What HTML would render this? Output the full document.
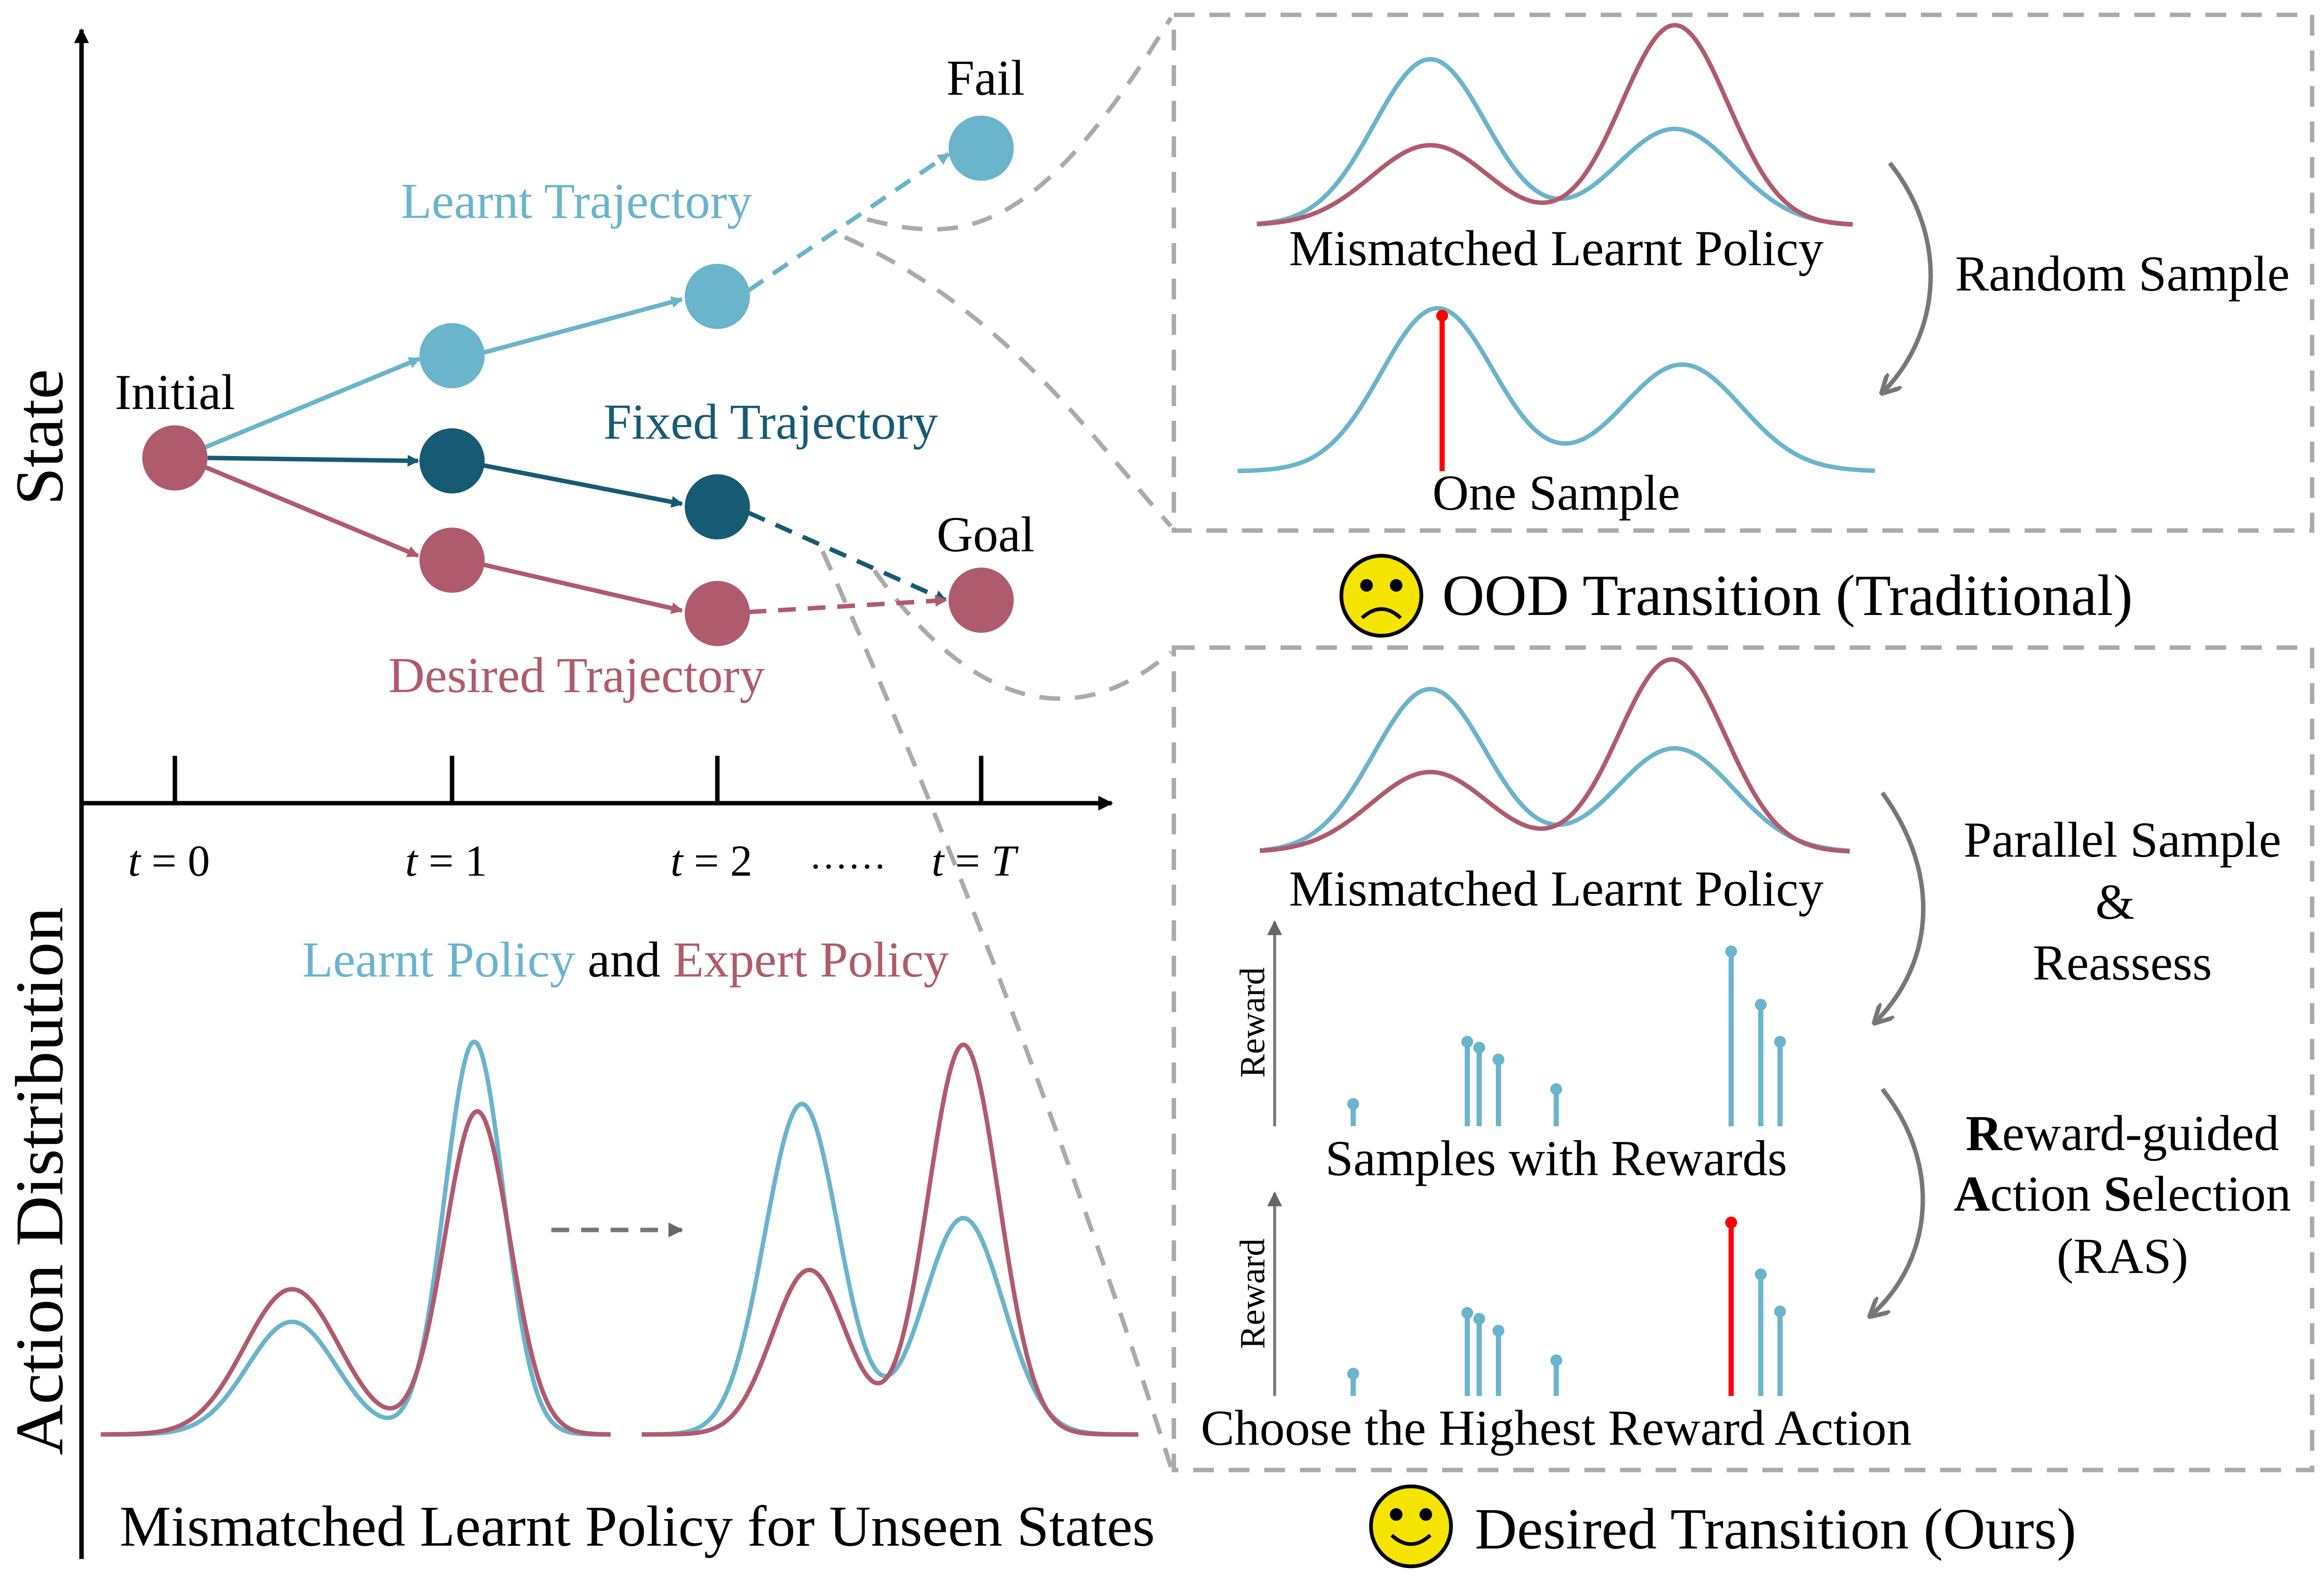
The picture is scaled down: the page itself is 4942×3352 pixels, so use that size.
<!DOCTYPE html>
<html><head><meta charset="utf-8"><style>html,body{margin:0;padding:0;background:#fff}svg{display:block}text{font-family:"Liberation Serif",serif}</style></head>
<body>
<svg id="s" width="4942" height="3352" viewBox="0 0 1568 1063.5" xmlns="http://www.w3.org/2000/svg">
<defs>
<marker id="ab" markerWidth="8" markerHeight="8" refX="7" refY="4" orient="auto" markerUnits="userSpaceOnUse" viewBox="0 0 8 8"><path d="M0,0 L8,4 L0,8z" fill="#6ab4cc"/></marker>
<marker id="ad" markerWidth="8" markerHeight="8" refX="7" refY="4" orient="auto" markerUnits="userSpaceOnUse" viewBox="0 0 8 8"><path d="M0,0 L8,4 L0,8z" fill="#175a73"/></marker>
<marker id="am" markerWidth="8" markerHeight="8" refX="7" refY="4" orient="auto" markerUnits="userSpaceOnUse" viewBox="0 0 8 8"><path d="M0,0 L8,4 L0,8z" fill="#b05a6e"/></marker>
<marker id="ak" markerWidth="10" markerHeight="10" refX="9" refY="5" orient="auto" markerUnits="userSpaceOnUse" viewBox="0 0 10 10"><path d="M0,0 L10,5 L0,10z" fill="#000"/></marker>
<marker id="ag" markerWidth="14" markerHeight="14" refX="12" refY="7" orient="auto" markerUnits="userSpaceOnUse" viewBox="0 0 14 14"><path d="M0,0 L13,7 L0,14" fill="none" stroke="#777" stroke-width="3"/></marker>
<marker id="ag2" markerWidth="10" markerHeight="10" refX="9" refY="5" orient="auto" markerUnits="userSpaceOnUse" viewBox="0 0 10 10"><path d="M0,0 L10,5 L0,10z" fill="#666"/></marker>
</defs>
<g fill="none" stroke="#aaa" stroke-width="3" stroke-dasharray="14,10">
<path d="M585,148 C650,165 700,160 790,12"/>
<path d="M570,160 C680,210 740,300 790,355"/>
<path d="M590,385 C650,470 720,500 790,440"/>
<path d="M555,372 C640,560 730,800 790,990"/>
</g>
<line x1="55" y1="1052" x2="55" y2="20" stroke="#000" stroke-width="3" marker-end="url(#ak)"/>
<line x1="55" y1="542" x2="750" y2="542" stroke="#000" stroke-width="3" marker-end="url(#ak)"/>
<g stroke="#000" stroke-width="3"><line x1="118" y1="510" x2="118" y2="542"/><line x1="305" y1="510" x2="305" y2="542"/><line x1="484" y1="510" x2="484" y2="542"/><line x1="662" y1="510" x2="662" y2="542"/></g>
<g font-size="30" text-anchor="middle"><text x="114" y="591"><tspan font-style="italic">t</tspan> = 0</text><text x="301" y="591"><tspan font-style="italic">t</tspan> = 1</text><text x="480" y="591"><tspan font-style="italic">t</tspan> = 2</text><text x="657" y="591"><tspan font-style="italic">t</tspan> = <tspan font-style="italic">T</tspan></text></g>
<text x="572" y="586" font-size="26" text-anchor="middle">……</text>
<text transform="translate(42,295) rotate(-90)" font-size="46" text-anchor="middle">State</text>
<text transform="translate(42,797) rotate(-90)" font-size="46" text-anchor="middle" textLength="370" lengthAdjust="spacingAndGlyphs">Action Distribution</text>
<g stroke-width="3" fill="none">
<line x1="138" y1="302" x2="283" y2="242" stroke="#6ab4cc" marker-end="url(#ab)"/>
<line x1="326" y1="238" x2="460" y2="202" stroke="#6ab4cc" marker-end="url(#ab)"/>
<line x1="505" y1="196" x2="640" y2="104" stroke="#6ab4cc" stroke-dasharray="12,8" marker-end="url(#ab)"/>
<line x1="140" y1="309" x2="282" y2="311" stroke="#175a73" marker-end="url(#ad)"/>
<line x1="326" y1="314" x2="460" y2="340" stroke="#175a73" marker-end="url(#ad)"/>
<line x1="505" y1="346" x2="638" y2="405" stroke="#175a73" stroke-dasharray="12,8" marker-end="url(#ad)"/>
<line x1="138" y1="315" x2="282" y2="375" stroke="#b05a6e" marker-end="url(#am)"/>
<line x1="326" y1="381" x2="460" y2="412" stroke="#b05a6e" marker-end="url(#am)"/>
<line x1="505" y1="413" x2="638" y2="405" stroke="#b05a6e" stroke-dasharray="12,8" marker-end="url(#am)"/>
</g>
<circle cx="118" cy="309" r="22" fill="#b05a6e"/>
<circle cx="305" cy="240" r="22" fill="#6ab4cc"/><circle cx="484" cy="200" r="22" fill="#6ab4cc"/><circle cx="662" cy="100" r="22" fill="#6ab4cc"/>
<circle cx="305" cy="311" r="22" fill="#175a73"/><circle cx="484" cy="342" r="22" fill="#175a73"/>
<circle cx="305" cy="378" r="22" fill="#b05a6e"/><circle cx="484" cy="414" r="22" fill="#b05a6e"/><circle cx="662" cy="405" r="22" fill="#b05a6e"/>
<g font-size="34" text-anchor="middle">
<text x="665" y="64">Fail</text>
<text x="389" y="147" fill="#6ab4cc">Learnt Trajectory</text>
<text x="118" y="276">Initial</text>
<text x="520" y="296" fill="#175a73">Fixed Trajectory</text>
<text x="665" y="372">Goal</text>
<text x="389" y="467" fill="#b05a6e">Desired Trajectory</text>
<text x="422" y="659"><tspan fill="#6ab4cc">Learnt Policy</tspan> and <tspan fill="#b05a6e">Expert Policy</tspan></text>
</g>
<text x="430" y="1043" font-size="39" text-anchor="middle">Mismatched Learnt Policy for Unseen States</text>
<line x1="372" y1="830" x2="460" y2="830" stroke="#777" stroke-width="3" stroke-dasharray="12,8" marker-end="url(#ag2)"/>
<g id="curves" fill="none" stroke-width="3"></g>
<rect x="792" y="10" width="768" height="348" fill="none" stroke="#aaa" stroke-width="3" stroke-dasharray="14,10"/>
<rect x="792" y="437" width="768" height="555" fill="none" stroke="#aaa" stroke-width="3" stroke-dasharray="14,10"/>
<g font-size="34" text-anchor="middle">
<text x="1050" y="179">Mismatched Learnt Policy</text>
<text x="1432" y="196">Random Sample</text>
<text x="1050" y="344">One Sample</text>
<text x="1050" y="611">Mismatched Learnt Policy</text>
<text x="1432" y="578">Parallel Sample</text>
<text x="1427" y="620">&amp;</text>
<text x="1432" y="661">Reassess</text>
<text x="1050" y="793">Samples with Rewards</text>
<text x="1050" y="975">Choose the Highest Reward Action</text>
<text x="1432" y="776"><tspan font-weight="bold">R</tspan>eward-guided</text>
<text x="1432" y="817"><tspan font-weight="bold">A</tspan>ction <tspan font-weight="bold">S</tspan>election</text>
<text x="1432" y="859">(RAS)</text>
</g>
<g font-size="39.5"><text x="973" y="415">OOD Transition (Traditional)</text><text x="995" y="1045">Desired Transition (Ours)</text></g>
<g fill="none" stroke="#777" stroke-width="3">
<path d="M1275,110 C1315,160 1310,225 1270,265" marker-end="url(#ag)"/>
<path d="M1270,535 C1310,590 1305,650 1265,690" marker-end="url(#ag)"/>
<path d="M1270,735 C1310,785 1305,850 1262,888" marker-end="url(#ag)"/>
</g>
<g stroke="#000" stroke-width="2.5">
<circle cx="932" cy="402" r="27" fill="#f5e400"/><circle cx="922" cy="395" r="3" fill="#000"/><circle cx="942" cy="395" r="3" fill="#000"/><path d="M919,417 Q932,405 945,417" fill="none"/>
<circle cx="952" cy="1030" r="27" fill="#f5e400"/><circle cx="942" cy="1022" r="3" fill="#000"/><circle cx="962" cy="1022" r="3" fill="#000"/><path d="M939,1036 Q952,1048 965,1036" fill="none"/>
</g>
<g stroke="#777" stroke-width="2"><line x1="860" y1="760" x2="860" y2="622" marker-end="url(#ag2)"/><line x1="860" y1="942" x2="860" y2="805" marker-end="url(#ag2)"/></g>
<text transform="translate(853,690) rotate(-90)" font-size="24" text-anchor="middle">Reward</text>
<text transform="translate(853,873) rotate(-90)" font-size="24" text-anchor="middle">Reward</text>
<g id="stems" stroke-width="3.5"></g>
<line x1="973" y1="213" x2="973" y2="318" stroke="#f00" stroke-width="3.5"/><circle cx="973" cy="213" r="4" fill="#f00"/>
<script>
var B="#6ab4cc",M="#b05a6e";
function g(x0,x1,base,peaks,col){var d="";for(var x=x0;x<=x1;x+=1){var y=base;peaks.forEach(function(p){y-=p[1]*Math.exp(-Math.pow(x-p[0],2)/(2*p[2]*p[2]));});d+=(x==x0?"M":"L")+x+","+y.toFixed(2);}
var e=document.createElementNS("http://www.w3.org/2000/svg","path");e.setAttribute("d",d);e.setAttribute("stroke",col);document.getElementById("curves").appendChild(e);}
g(68,412,968,[[197,76,30],[320,265,20]],B);
g(68,412,968,[[197,98,32],[322,218,22]],M);
g(433,768,968,[[541,223,25],[650,146,27]],B);
g(433,768,968,[[546,111,25],[650,263,24]],M);
g(848,1250,152,[[965,112,38],[1130,65,40]],B);
g(848,1250,152,[[965,54,40],[1130,135,36]],M);
g(835,1265,318,[[970,110,38],[1135,72,40]],B);
g(850,1248,575,[[965,110,38],[1130,70,40]],B);
g(850,1248,575,[[965,54,40],[1128,130,36]],M);
var st=document.getElementById("stems");
function s(x,y0,y1,c){var l=document.createElementNS("http://www.w3.org/2000/svg","line");l.setAttribute("x1",x);l.setAttribute("x2",x);l.setAttribute("y1",y0);l.setAttribute("y2",y1);l.setAttribute("stroke",c);st.appendChild(l);
var k=document.createElementNS("http://www.w3.org/2000/svg","circle");k.setAttribute("cx",x);k.setAttribute("cy",y1);k.setAttribute("r",4);k.setAttribute("fill",c);st.appendChild(k);}
[[913,745],[990,703],[998,707],[1011,715],[1050,735],[1168,642],[1188,678],[1201,703]].forEach(function(p){s(p[0],760,p[1],B);});
[[913,927],[990,886],[998,890],[1011,898],[1050,918],[1168,825],[1188,860],[1201,885]].forEach(function(p){s(p[0],942,p[1],p[0]==1168?"#f00":B);});
</script>
</svg>
</body></html>
